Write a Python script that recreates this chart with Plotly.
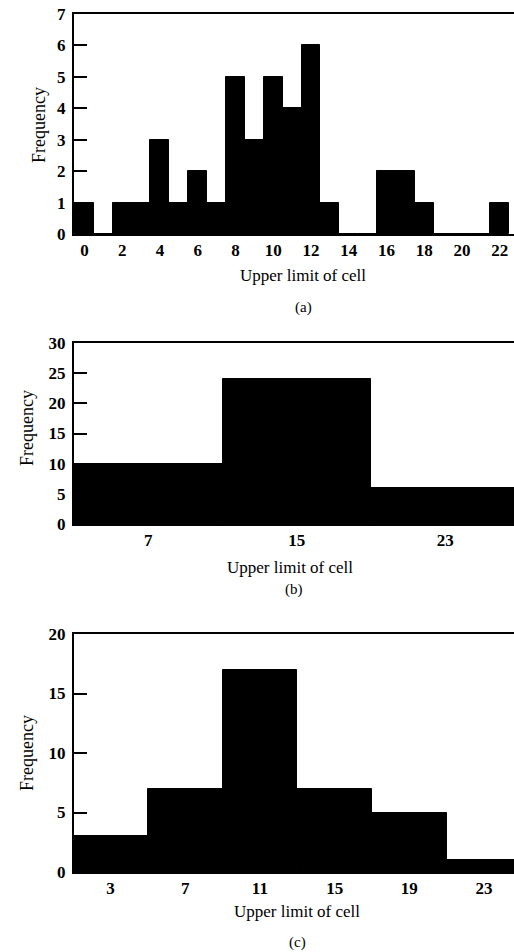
import plotly.graph_objects as go

W, H = 514, 952

# Panel (a): cell width 1
a_centers = list(range(0, 23))
a_freq = [1, 0, 1, 1, 3, 1, 2, 1, 5, 3, 5, 4, 6, 1, 0, 0, 2, 2, 1, 0, 0, 0, 1]
a_ticks = list(range(0, 23, 2))

# Panel (b): cell width 8
b_centers = [7, 15, 23]
b_freq = [10, 24, 6]
b_ticks = [7, 15, 23]

# Panel (c): cell width 4
c_centers = [3, 7, 11, 15, 19, 23]
c_freq = [3, 7, 17, 7, 5, 1]
c_ticks = [3, 7, 11, 15, 19, 23]

FONT = "Liberation Serif"

def px_x(p):
    return p / W

def px_y(p):
    return 1 - p / H

panels = [
    # centers, freq, width, ticks, xrange, yrange, ydtick, top_px, bottom_px, label, freq_x, freq_y, title_y, label_y
    (a_centers, a_freq, 1, a_ticks, [-0.55, 22.75], [0, 7], 1, 14, 234, "(a)", 39, 125, 275, 308),
    (b_centers, b_freq, 8, b_ticks, [3, 26.7], [0, 30], 5, 343, 524, "(b)", 27, 428, 567, 589),
    (c_centers, c_freq, 4, c_ticks, [1.05, 24.6], [0, 20], 5, 634, 872, "(c)", 27, 753, 911, 942),
]
title_x = [303, 290, 297]
label_x = [303, 294, 297]

fig = go.Figure()
annotations = []
left_px = 74

for i, (cx, fr, wd, tv, xr, yr, dy, top, bot, lab, fx, fy, ty, ly) in enumerate(panels):
    n = "" if i == 0 else str(i + 1)
    fig.add_trace(go.Bar(
        x=cx, y=fr, width=[wd] * len(cx),
        marker=dict(color="black", line=dict(color="black", width=1)),
        xaxis="x" + n, yaxis="y" + n, showlegend=False, hoverinfo="skip",
    ))
    fig.update_layout(**{
        "xaxis" + n: dict(
            domain=[px_x(left_px), 1.0], range=xr, anchor="y" + n,
            tickvals=tv, ticks="", showgrid=False, zeroline=False,
            showline=True, linecolor="black", linewidth=2, mirror=True,
            tickfont=dict(family=FONT, size=17, color="black", weight="bold"),
            ticklabelstandoff=0, automargin=False,
        ),
        "yaxis" + n: dict(
            domain=[px_y(bot), px_y(top)], range=yr, anchor="x" + n,
            dtick=dy, ticks="inside", ticklen=13, tickwidth=1.5, tickcolor="black",
            showgrid=False, zeroline=False,
            showline=True, linecolor="black", linewidth=2,
            tickfont=dict(family=FONT, size=17, color="black", weight="bold"),
            ticklabelstandoff=3, automargin=False,
        ),
    })
    annotations.append(dict(
        text="Frequency", x=px_x(fx), y=px_y(fy), xref="paper", yref="paper",
        showarrow=False, textangle=-90, xanchor="center", yanchor="middle",
        font=dict(family=FONT, size=18, color="black"),
    ))
    annotations.append(dict(
        text="Upper limit of cell", x=px_x(title_x[i]), y=px_y(ty), xref="paper", yref="paper",
        showarrow=False, xanchor="center", yanchor="middle",
        font=dict(family=FONT, size=17, color="black"),
    ))
    annotations.append(dict(
        text=lab, x=px_x(label_x[i]), y=px_y(ly), xref="paper", yref="paper",
        showarrow=False, xanchor="center", yanchor="middle",
        font=dict(family=FONT, size=15, color="black"),
    ))

fig.update_layout(
    width=W, height=H,
    margin=dict(l=0, r=0, t=0, b=0, autoexpand=False),
    paper_bgcolor="white", plot_bgcolor="white",
    bargap=0, annotations=annotations,
)

fig.write_html(
    "out.html",
    config={"displayModeBar": False},
    post_script="document.body.style.margin='0';document.body.style.overflow='hidden';",
)
